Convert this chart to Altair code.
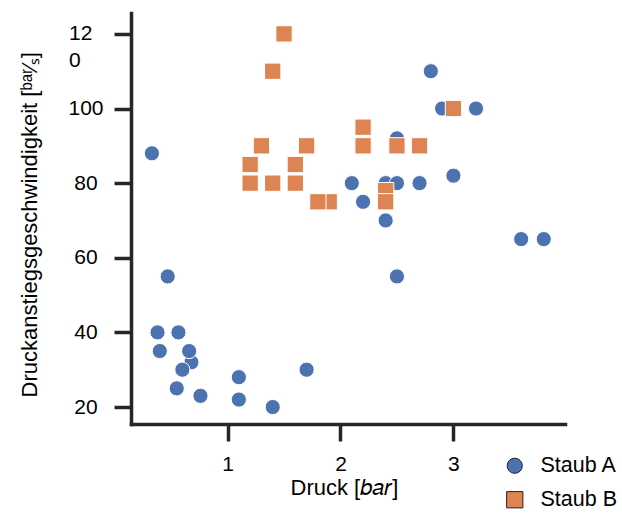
import altair as alt
import pandas as pd

# ---- data ----
series = ["Staub A", "Staub B"]
colors = ["#4C72B0", "#DD8452"]
shapes = ["circle", "square"]
marker_sizes = [230, 265]

a_druck = [0.33, 0.47, 0.38, 0.565, 0.40, 0.68, 0.66, 0.60, 0.55, 0.76, 1.10, 1.10, 1.40, 1.70,
           2.80, 2.90, 3.20, 2.50, 2.10, 2.20, 2.40, 2.50, 2.70, 3.00, 2.40, 3.60, 3.80, 2.50]
a_rate = [88, 55, 40, 40, 35, 32, 35, 30, 25, 23, 28, 22, 20, 30,
          110, 100, 100, 92, 80, 75, 80, 80, 80, 82, 70, 65, 65, 55]

b_druck = [1.50, 1.40, 1.30, 1.70, 1.20, 1.60, 1.20, 1.40, 1.60, 1.90, 1.80,
           2.20, 2.20, 2.50, 2.70, 2.40, 2.40, 3.00]
b_rate = [120, 110, 90, 90, 85, 85, 80, 80, 80, 75, 75,
          95, 90, 90, 90, 78, 75, 100]

x_ticks = [1, 2, 3]
y_ticks = [20, 40, 60, 80, 100, 120]

df = pd.DataFrame({
    "Druck": a_druck + b_druck,
    "Rate": a_rate + b_rate,
    "Staub": [series[0]] * len(a_druck) + [series[1]] * len(b_druck),
})
df["ord"] = range(len(df))

FONT = "Liberation Sans"
AX = "#262626"
label_expr = "datum.value == 120 ? ['12', '0'] : datum.label"
is_top = "datum.value == 120"

x_axis = alt.Axis(
    values=x_ticks, grid=False, title="Druck [𝑏𝑎𝑟]",
    domainColor=AX, domainWidth=3.5, domainCap="square",
    tickColor=AX, tickWidth=3.5, tickSize=17,
    labelFont=FONT, labelFontSize=21, labelColor="black", labelPadding=12,
    labelOverlap=False, labelFlush=False,
    titleFont=FONT, titleFontSize=22, titleFontWeight="normal", titleColor="black",
    titleAlign="left", titleBaseline="alphabetic", titleX=159, titleY=70,
)

y_axis = alt.Axis(
    values=y_ticks, grid=False, title="Druckanstiegsgeschwindigkeit [ᵇᵃʳ⁄ₛ]",
    domainColor=AX, domainWidth=3.5, domainCap="square",
    tickColor=AX, tickWidth=3.5, tickSize=17,
    labelFont=FONT, labelFontSize=21, labelColor="black",
    labelPadding={"condition": {"test": is_top, "value": 45.5}, "value": 28.5},
    labelAlign={"condition": {"test": is_top, "value": "left"}, "value": "center"},
    labelBaseline="middle", labelLineHeight=27,
    labelExpr=label_expr, labelOverlap=False, labelFlush=False,
    titleFont=FONT, titleFontSize=22, titleFontWeight="normal", titleColor="black",
    titleAngle=270, titleAlign="left", titleBaseline="alphabetic", titleX=-95, titleY=384,
)

legend = alt.Legend(
    title=None, orient="none", legendX=373, legendY=442, padding=0,
    labelFont=FONT, labelFontSize=21.5, labelColor="black", labelOffset=15,
    symbolSize=300, symbolStrokeColor="#222", symbolStrokeWidth=1, rowPadding=11,
)

chart = alt.Chart(df).mark_point(
    filled=True, opacity=1, stroke="white", strokeWidth=1
).encode(
    x=alt.X("Druck:Q", scale=alt.Scale(domain=[0.145, 3.988], nice=False, zero=False), axis=x_axis),
    y=alt.Y("Rate:Q", scale=alt.Scale(domain=[15.45, 125.6], nice=False, zero=False), axis=y_axis),
    color=alt.Color("Staub:N", scale=alt.Scale(domain=series, range=colors), legend=legend),
    shape=alt.Shape("Staub:N", scale=alt.Scale(domain=series, range=shapes), legend=legend),
    size=alt.Size("Staub:N", scale=alt.Scale(domain=series, range=marker_sizes), legend=None),
    order=alt.Order("ord:Q"),
).properties(
    width=434, height=411,
    autosize=alt.AutoSizeParams(type="none"),
    padding={"left": 131, "top": 13, "right": 57, "bottom": 89},
    background="white",
).configure_view(stroke=None)

chart.save("out.html", embed_options={"renderer": "svg", "actions": False})
